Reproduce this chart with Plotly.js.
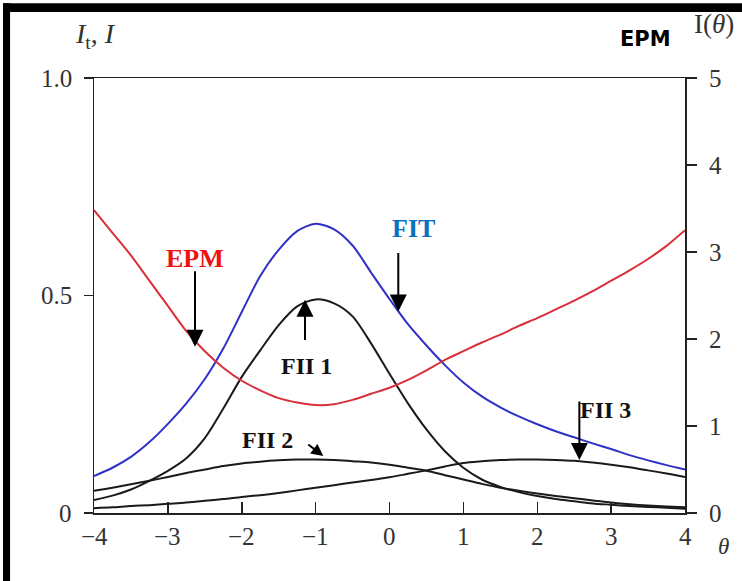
<!DOCTYPE html>
<html>
<head>
<meta charset="utf-8">
<script src="https://cdn.plot.ly/plotly-3.0.1.min.js"></script>
<style>
  html, body { margin: 0; padding: 0; background: #fff; }
  #chart { width: 742px; height: 581px; }
</style>
</head>
<body>
<div id="chart"></div>
<script>
// θ grid
const theta = [-4, -3.75, -3.5, -3.25, -3, -2.75, -2.5, -2.25, -2, -1.75, -1.5, -1.25, -1, -0.75, -0.5, -0.25,
               0, 0.25, 0.5, 0.75, 1, 1.25, 1.5, 1.75, 2, 2.25, 2.5, 2.75, 3, 3.25, 3.5, 3.75, 4];
// Test information (FIT), left axis
const fit  = [0.085, 0.104, 0.129, 0.163, 0.205, 0.252, 0.308, 0.378, 0.462, 0.545, 0.605, 0.648, 0.665, 0.652, 0.615, 0.553,
              0.492, 0.434, 0.385, 0.340, 0.300, 0.268, 0.243, 0.222, 0.204, 0.188, 0.174, 0.160, 0.147, 0.133, 0.121, 0.110, 0.100];
// Item information functions, left axis
const fii1 = [0.030, 0.040, 0.054, 0.074, 0.097, 0.126, 0.172, 0.240, 0.313, 0.374, 0.432, 0.475, 0.491, 0.482, 0.452, 0.390,
              0.320, 0.252, 0.192, 0.142, 0.104, 0.077, 0.060, 0.048, 0.039, 0.032, 0.027, 0.022, 0.019, 0.016, 0.014, 0.012, 0.010];
const fii2 = [0.051, 0.058, 0.066, 0.074, 0.083, 0.092, 0.100, 0.108, 0.114, 0.118, 0.121, 0.123, 0.123, 0.122, 0.119, 0.116,
              0.111, 0.104, 0.097, 0.087, 0.077, 0.067, 0.058, 0.051, 0.045, 0.039, 0.034, 0.029, 0.024, 0.020, 0.017, 0.015, 0.013];
const fii3 = [0.011, 0.013, 0.016, 0.018, 0.021, 0.024, 0.028, 0.032, 0.037, 0.041, 0.046, 0.052, 0.058, 0.064, 0.070, 0.076,
              0.082, 0.090, 0.098, 0.107, 0.115, 0.119, 0.122, 0.123, 0.123, 0.122, 0.120, 0.116, 0.111, 0.105, 0.098, 0.091, 0.083];
// Standard error of measurement (EPM), right axis
const epm  = [3.48, 3.22, 2.96, 2.67, 2.38, 2.09, 1.86, 1.67, 1.52, 1.41, 1.32, 1.27, 1.24, 1.25, 1.30, 1.37,
              1.44, 1.53, 1.64, 1.76, 1.86, 1.96, 2.05, 2.15, 2.24, 2.34, 2.44, 2.55, 2.67, 2.79, 2.92, 3.07, 3.25];

// tick labels
const xTicks = [-4, -3, -2, -1, 0, 1, 2, 3, 4];
const xTickText = ['\u22124', '\u22123', '\u22122', '\u22121', '0', '1', '2', '3', '4'];
const yLeftTicks = [0, 0.5, 1];
const yLeftText = ['0', '0.5', '1.0'];
const yRightTicks = [0, 1, 2, 3, 4, 5];
const yRightText = ['0', '1', '2', '3', '4', '5'];

const serif = 'Liberation Serif';
const axisColor = '#222';
const labelFont = { family: serif, size: 25, color: '#333' };

const line = (c, w) => ({ color: c, width: w, shape: 'spline', smoothing: 0.8 });

const traces = [
  { x: theta, y: fii2, mode: 'lines', line: line('#1a1a1a', 2), yaxis: 'y', hoverinfo: 'skip' },
  { x: theta, y: fii3, mode: 'lines', line: line('#1a1a1a', 2), yaxis: 'y', hoverinfo: 'skip' },
  { x: theta, y: fii1, mode: 'lines', line: line('#1a1a1a', 2), yaxis: 'y', hoverinfo: 'skip' },
  { x: theta, y: fit,  mode: 'lines', line: line('#3030c8', 2), yaxis: 'y', hoverinfo: 'skip' },
  { x: theta, y: epm,  mode: 'lines', line: line('#d8303a', 2), yaxis: 'y2', hoverinfo: 'skip' }
];

// arrow helper: tail (tx,ty) -> tip (hx,hy) in data coordinates (left axis)
function arrow(hx, hy, tx, ty, size) {
  return {
    x: hx, y: hy, ax: tx, ay: ty, xref: 'x', yref: 'y', axref: 'x', ayref: 'y',
    text: '', showarrow: true, arrowhead: 2, arrowsize: size, arrowwidth: 2, arrowcolor: '#000',
    standoff: 0, startstandoff: 0
  };
}
function label(txt, x, y, color, size) {
  return {
    x: x, y: y, xref: 'x', yref: 'y', text: '<b>' + txt + '</b>', showarrow: false,
    font: { family: serif, size: size, color: color }, xanchor: 'center', yanchor: 'middle'
  };
}

// tick labels placed at the axes' own tick values
const tickLabels = [].concat(
  xTicks.map((v, i) => ({ x: v, xref: 'x', y: 0, yref: 'paper', text: xTickText[i], showarrow: false,
    xanchor: 'center', yanchor: 'top', yshift: -8, font: labelFont })),
  yLeftTicks.map((v, i) => ({ x: 0, xref: 'paper', y: v, yref: 'y', text: yLeftText[i], showarrow: false,
    xanchor: 'right', yanchor: 'middle', xshift: -20, font: labelFont })),
  yRightTicks.map((v, i) => ({ x: 1, xref: 'paper', y: v, yref: 'y2', text: yRightText[i], showarrow: false,
    xanchor: 'left', yanchor: 'middle', xshift: 22, font: labelFont }))
);

const layout = {
  width: 742, height: 581,
  margin: { l: 94, r: 57, t: 78, b: 68 },
  paper_bgcolor: '#fff', plot_bgcolor: '#fff',
  showlegend: false,
  xaxis: {
    range: [-4, 4], tickvals: xTicks, showticklabels: false,
    ticks: 'inside', ticklen: 11, tickwidth: 1.5, tickcolor: axisColor,
    showline: true, linewidth: 1.5, linecolor: axisColor, mirror: true,
    showgrid: false, zeroline: false
  },
  yaxis: {
    range: [0, 1], tickvals: yLeftTicks, showticklabels: false,
    ticks: 'outside', ticklen: 9, tickwidth: 1.5, tickcolor: axisColor,
    showline: true, linewidth: 1.5, linecolor: axisColor,
    showgrid: false, zeroline: false
  },
  yaxis2: {
    range: [0, 5], overlaying: 'y', side: 'right', tickvals: yRightTicks, showticklabels: false,
    ticks: 'outside', ticklen: 10, tickwidth: 1.5, tickcolor: axisColor,
    showline: true, linewidth: 1.5, linecolor: axisColor,
    showgrid: false, zeroline: false
  },
  shapes: [
    // black frame (left and top edges of the figure)
    { type: 'rect', xref: 'paper', yref: 'paper', x0: -0.154, x1: -0.142, y0: -0.157, y1: 1.172,
      fillcolor: '#000', line: { width: 0 } },
    { type: 'rect', xref: 'paper', yref: 'paper', x0: -0.154, x1: 1.1, y0: 1.152, y1: 1.172,
      fillcolor: '#000', line: { width: 0 } }
  ],
  annotations: tickLabels.concat([
    // axis titles
    { xref: 'paper', yref: 'paper', x: 0.002, y: 1.097, xanchor: 'center', yanchor: 'middle',
      text: '<i>I</i><sub>t</sub>, <i>I</i>', showarrow: false,
      font: { family: serif, size: 28, color: '#333' } },
    { xref: 'paper', yref: 'paper', x: 1.012, y: 1.125, xanchor: 'left', yanchor: 'middle',
      text: 'I(<i>θ</i>)', showarrow: false,
      font: { family: serif, size: 27, color: '#333' } },
    { xref: 'paper', yref: 'paper', x: 1.065, y: -0.078, xanchor: 'center', yanchor: 'middle',
      text: '<i>θ</i>', showarrow: false,
      font: { family: serif, size: 23, color: '#333' } },
    { xref: 'paper', yref: 'paper', x: 0.934, y: 1.09, xanchor: 'center', yanchor: 'middle',
      text: '<b>EPM</b>', showarrow: false,
      font: { family: 'DejaVu Sans', size: 21, color: '#000' } },
    // curve labels
    label('EPM', -2.633, 0.585, '#ee1111', 26),
    label('FIT', 0.33, 0.655, '#0a70c0', 26),
    Object.assign(label('FII 1', -1.13, 0.338, '#111', 24), { bgcolor: '#fff' }),
    label('FII 2', -1.65, 0.167, '#111', 24),
    label('FII 3', 2.92, 0.237, '#111', 24),
    // arrows
    arrow(-2.633, 0.382, -2.633, 0.559, 1.7),
    arrow(0.119, 0.463, 0.119, 0.601, 1.7),
    arrow(-1.144, 0.490, -1.144, 0.394, 1.7),
    arrow(-0.896, 0.131, -1.12, 0.160, 1.2),
    arrow(2.57, 0.122, 2.57, 0.260, 1.7)
  ])
};

Plotly.newPlot('chart', traces, layout, { displayModeBar: false, staticPlot: true });
</script>
</body>
</html>
